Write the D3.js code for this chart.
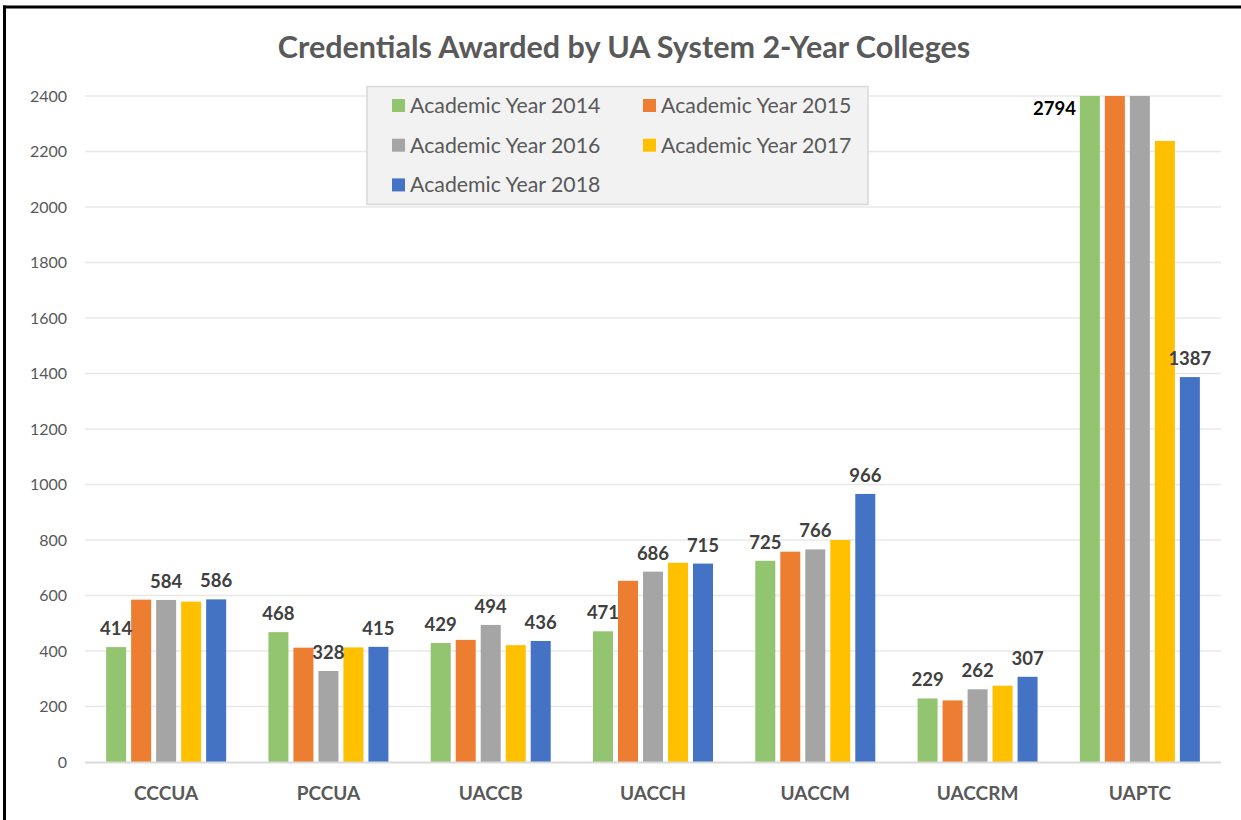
<!DOCTYPE html>
<html>
<head>
<meta charset="utf-8">
<script src="https://cdnjs.cloudflare.com/ajax/libs/d3/7.8.5/d3.min.js"></script>
<style>
  body { margin: 0; background: #fff; }
  svg { display: block; font-family: Lato, "Open Sans", sans-serif; }
</style>
</head>
<body>
<div class="chart"></div>
<script>
const colleges = ['CCCUA', 'PCCUA', 'UACCB', 'UACCH', 'UACCM', 'UACCRM', 'UAPTC']
const seriesNames = ['Academic Year 2014', 'Academic Year 2015', 'Academic Year 2016', 'Academic Year 2017', 'Academic Year 2018']
const ay2014 = [414, 468, 429, 471, 725, 229, 2794]
const ay2015 = [585, 412, 440, 653, 758, 222, 2850]
const ay2016 = [584, 328, 494, 686, 766, 262, 2700]
const ay2017 = [578, 413, 421, 718, 800, 275, 2238]
const ay2018 = [586, 415, 436, 715, 966, 307, 1387]
const yTicks = [0, 200, 400, 600, 800, 1000, 1200, 1400, 1600, 1800, 2000, 2200, 2400]
// which series carry a value label
const labelled = ['Academic Year 2014', 'Academic Year 2016', 'Academic Year 2018']

const colors = ['#93c470', '#ed7d31', '#a5a5a5', '#ffc000', '#4472c4']
const allSeries = [ay2014, ay2015, ay2016, ay2017, ay2018]

const W = 1241, H = 820
const plotLeft = 85, plotRight = 1221, plotTop = 96, plotBottom = 762
const yMax = 2400

const svg = d3.select('.chart')
  .append('svg')
  .attr('width', W)
  .attr('height', H)

const x0 = d3.scaleBand()
  .domain(colleges)
  .range([plotLeft, plotRight])

const groupPad = (x0.bandwidth() - 125) / 2
const x1 = d3.scaleBand()
  .domain(seriesNames)
  .range([groupPad, x0.bandwidth() - groupPad])
  .paddingInner(0.2)
  .paddingOuter(0.1)

const y = d3.scaleLinear()
  .domain([0, yMax])
  .range([plotBottom, plotTop])

const color = d3.scaleOrdinal().domain(seriesNames).range(colors)

// frame (top and left edges only)
svg.append('line').attr('x1', 3).attr('x2', W).attr('y1', 7).attr('y2', 7)
  .attr('stroke', '#000').attr('stroke-width', 3)
svg.append('line').attr('x1', 4.5).attr('x2', 4.5).attr('y1', 5.5).attr('y2', H)
  .attr('stroke', '#000').attr('stroke-width', 3)

// title
svg.append('text')
  .attr('x', 624)
  .attr('y', 58)
  .attr('text-anchor', 'middle')
  .attr('font-size', 30.5)
  .attr('font-weight', 'bold')
  .attr('fill', '#595959')
  .text('Credentials Awarded by UA System 2-Year Colleges')

// gridlines
svg.selectAll('.grid')
  .data(yTicks.filter(d => d > 0))
  .enter()
  .append('line')
  .attr('class', 'grid')
  .attr('x1', plotLeft)
  .attr('x2', plotRight)
  .attr('y1', d => y(d))
  .attr('y2', d => y(d))
  .attr('stroke', '#e8e8e8')
  .attr('stroke-width', 1.5)

// y axis labels
const yAxis = svg.append('g')
  .attr('transform', `translate(${plotLeft},0)`)
  .call(d3.axisLeft(y).tickValues(yTicks).tickFormat(d3.format('d')).tickSize(0).tickPadding(18))
yAxis.select('.domain').remove()
yAxis.selectAll('text')
  .attr('font-family', 'Lato, sans-serif')
  .attr('font-size', 16)
  .attr('fill', '#595959')

const table = colleges.map((c, i) => ({
  college: c,
  values: seriesNames.map((s, j) => ({ series: s, college: c, value: allSeries[j][i] }))
}))

// groups only shift in x, so a wide clip rect in group coords cuts bars at the axis max
svg.append('clipPath')
  .attr('id', 'plotclip')
  .append('rect')
  .attr('x', -2000)
  .attr('y', plotTop)
  .attr('width', 6000)
  .attr('height', plotBottom - plotTop)

const groups = svg.selectAll('.group')
  .data(table)
  .enter()
  .append('g')
  .attr('class', 'group')
  .attr('transform', d => `translate(${x0(d.college)},0)`)

groups.append('g')
  .attr('clip-path', 'url(#plotclip)')
  .selectAll('rect')
  .data(d => d.values)
  .enter()
  .append('rect')
  .attr('x', d => x1(d.series))
  .attr('width', x1.bandwidth())
  .attr('y', d => y(d.value))
  .attr('height', d => plotBottom - y(d.value))
  .attr('fill', d => color(d.series))

// axis baseline
svg.append('line')
  .attr('x1', plotLeft)
  .attr('x2', plotRight)
  .attr('y1', plotBottom + 0.5)
  .attr('y2', plotBottom + 0.5)
  .attr('stroke', '#d9d9d9')
  .attr('stroke-width', 2)

// value labels; of the clipped bars only the first one shows its value (beside the bar)
const clipped = d => d.value > yMax
groups.selectAll('.val')
  .data(d => d.values.filter(v => labelled.includes(v.series) && (!clipped(v) || v.series === seriesNames[0])))
  .enter()
  .append('text')
  .attr('class', 'val')
  .attr('x', d => clipped(d) ? x1(d.series) - 4 : x1(d.series) + x1.bandwidth() / 2)
  .attr('y', d => clipped(d) ? y(yMax) + 19 : y(d.value) - 12)
  .attr('text-anchor', d => clipped(d) ? 'end' : 'middle')
  .attr('font-size', 18.5)
  .attr('font-weight', 'bold')
  .attr('fill', d => clipped(d) ? '#000' : '#404040')
  .text(d => d.value)

// category labels
svg.selectAll('.cat')
  .data(colleges)
  .enter()
  .append('text')
  .attr('class', 'cat')
  .attr('x', d => x0(d) + x0.bandwidth() / 2)
  .attr('y', 800)
  .attr('text-anchor', 'middle')
  .attr('font-size', 19)
  .attr('font-weight', 'bold')
  .attr('fill', '#595959')
  .text(d => d)

// legend
svg.append('rect')
  .attr('x', 367)
  .attr('y', 86.5)
  .attr('width', 501)
  .attr('height', 118)
  .attr('fill', '#f2f2f2')
  .attr('stroke', '#d9d9d9')
  .attr('stroke-width', 1.5)

const items = svg.selectAll('.leg')
  .data(seriesNames)
  .enter()
  .append('g')
  .attr('class', 'leg')
  .attr('transform', (d, i) => `translate(${i % 2 === 0 ? 392 : 643},${105.5 + Math.floor(i / 2) * 39.7})`)
items.append('rect')
  .attr('x', 0)
  .attr('y', -6.5)
  .attr('width', 13)
  .attr('height', 13)
  .attr('fill', d => color(d))
items.append('text')
  .attr('x', 18)
  .attr('y', 7.5)
  .attr('font-size', 21.3)
  .attr('fill', '#595959')
  .text(d => d)
</script>
</body>
</html>
